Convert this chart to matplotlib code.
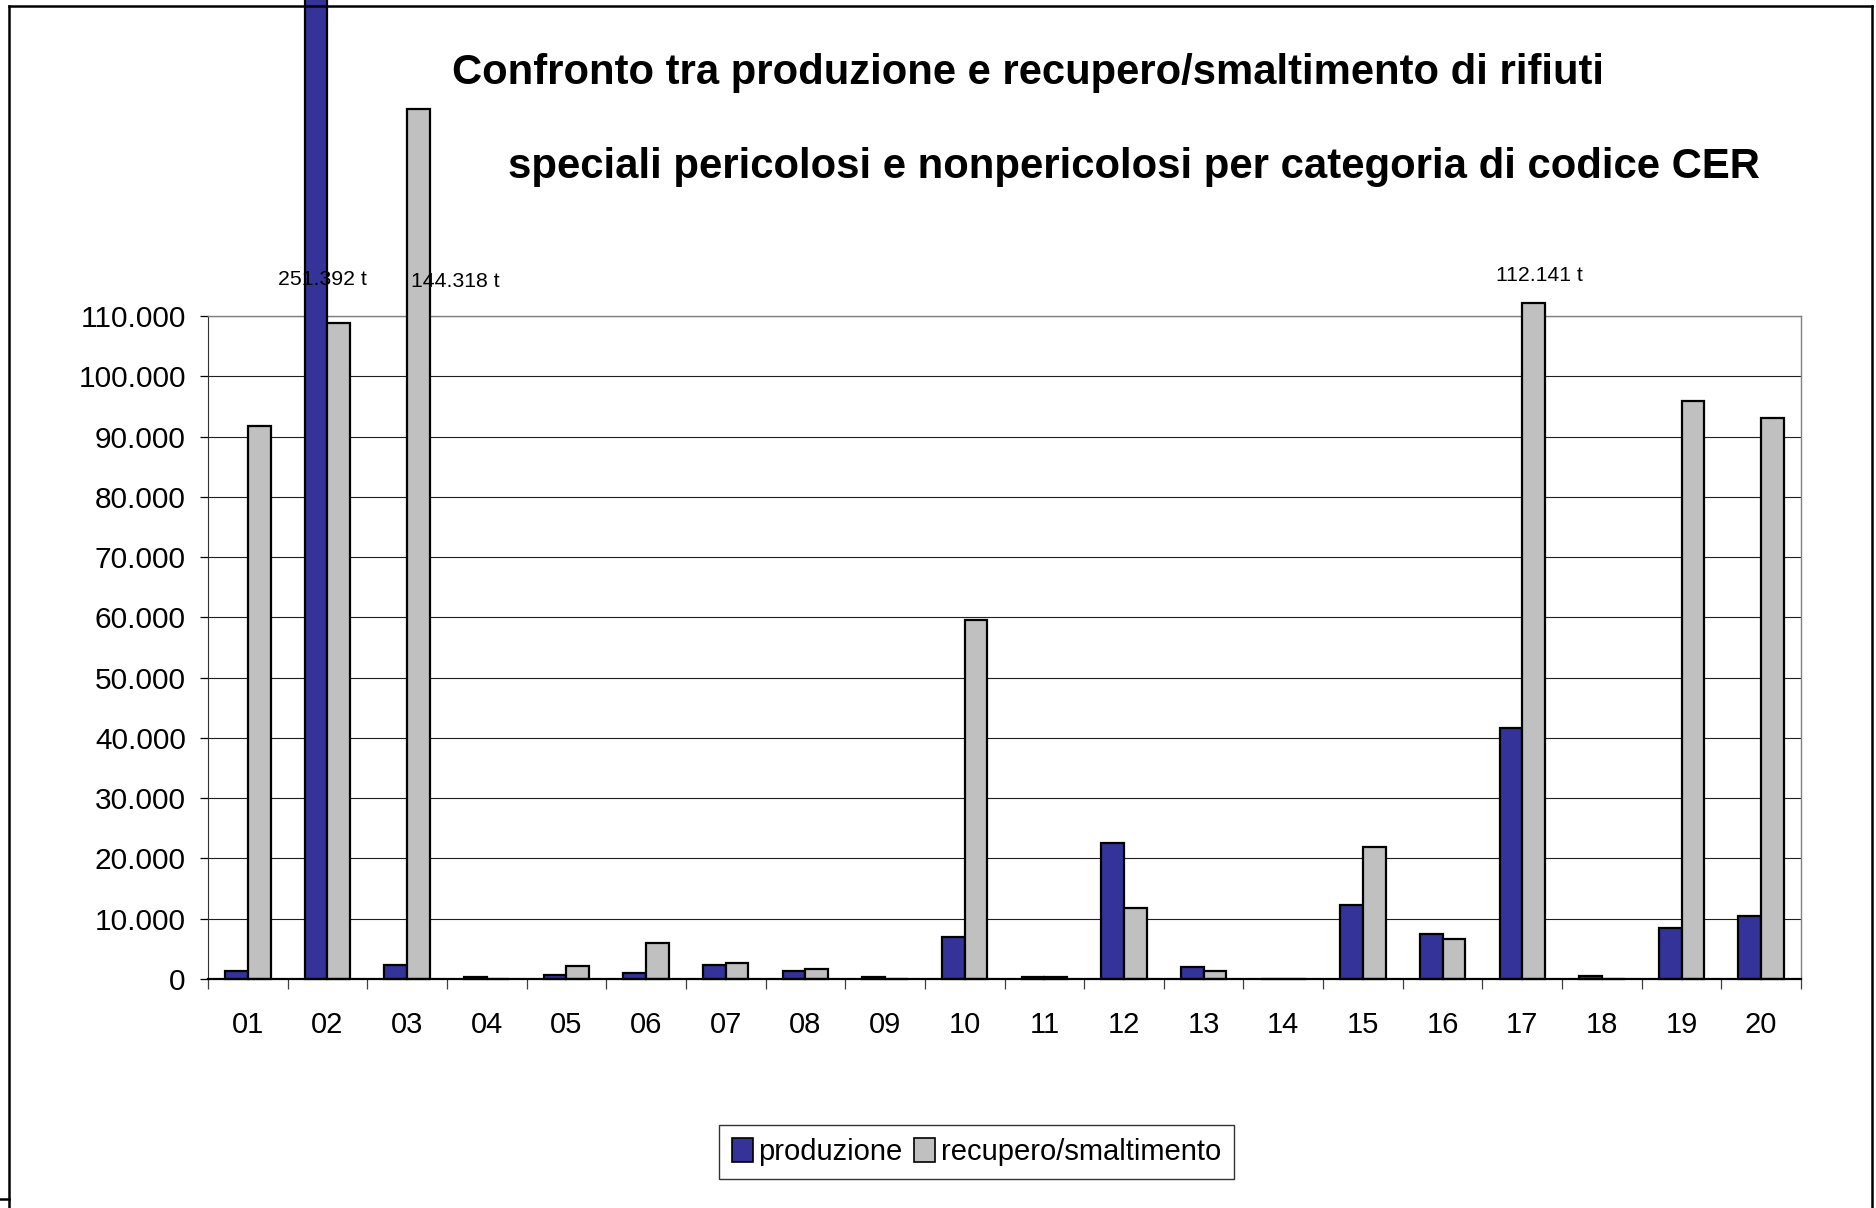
import matplotlib
matplotlib.use("Agg")
import matplotlib.pyplot as plt
from matplotlib.lines import Line2D
from matplotlib.ticker import FuncFormatter, FixedLocator
import numpy as np

plt.rcParams['font.family'] = ['Liberation Sans', 'DejaVu Sans']

categories = ["01", "02", "03", "04", "05", "06", "07", "08", "09", "10",
              "11", "12", "13", "14", "15", "16", "17", "18", "19", "20"]
produzione = [1350, 251392, 2300, 400, 700, 950, 2250, 1350, 400, 7000,
              400, 22500, 2000, 0, 12300, 7500, 41700, 450, 8400, 10400]
recupero = [91800, 108800, 144318, 0, 2200, 6000, 2700, 1700, 0, 59600,
            400, 11800, 1300, 0, 21900, 6600, 112141, 0, 95900, 93100]
series_names = ["produzione", "recupero/smaltimento"]
annotations = ["251.392 t", "144.318 t", "112.141 t"]
yticks = [0, 10000, 20000, 30000, 40000, 50000, 60000, 70000, 80000, 90000, 100000, 110000]
title1 = "Confronto tra produzione e recupero/smaltimento di rifiuti"
title2 = "speciali pericolosi e nonpericolosi per categoria di codice CER"

BLUE = "#333399"
GRAY = "#C0C0C0"

W, H = 1876, 1208
fig = plt.figure(figsize=(W / 100, H / 100), dpi=100)
ax = fig.add_axes([208 / W, 1 - 979 / H, (1801 - 208) / W, (979 - 316) / H])

x = np.arange(len(categories))
bw = 0.285
ax.bar(x - bw / 2, produzione, width=bw, color=BLUE, edgecolor="black",
       linewidth=1.6, clip_on=False, zorder=3, label=series_names[0])
ax.bar(x + bw / 2, recupero, width=bw, color=GRAY, edgecolor="black",
       linewidth=1.6, clip_on=False, zorder=3, label=series_names[1])

ax.set_xlim(-0.5, len(categories) - 0.5)
ax.set_ylim(0, 110000)

ax.yaxis.set_major_locator(FixedLocator(yticks))
ax.yaxis.set_major_formatter(FuncFormatter(lambda v, p: f"{int(v):,}".replace(",", ".")))
ax.set_xticks(x)
ax.set_xticklabels(categories)
ax.xaxis.set_minor_locator(FixedLocator(np.arange(-0.5, len(categories), 1.0)))
ax.tick_params(axis="x", which="major", length=0, pad=23, labelsize=21)
ax.tick_params(axis="x", which="minor", length=7, width=0.9, color="#404040", direction="out")
ax.tick_params(axis="y", length=6, width=0.9, pad=10, labelsize=21.5, direction="out")

ax.grid(axis="y", color="#202020", linewidth=0.8, zorder=1)
for s in ["top", "right"]:
    ax.spines[s].set_color("#808080")
    ax.spines[s].set_linewidth(1.0)
ax.spines["left"].set_color("#303030")
ax.spines["bottom"].set_color("black")
ax.spines["bottom"].set_linewidth(1.6)
ax.spines["bottom"].set_zorder(4)

ann_pos = [(0.94, 116000), (2.61, 115800), (16.22, 116800)]
for txt, (px, py) in zip(annotations, ann_pos):
    ax.text(px, py, txt, ha="center", va="center", fontsize=15.3, zorder=5)

t1 = fig.text(1028 / W, 1 - 73 / H, title1, ha="center", va="center",
              fontsize=27, fontweight="bold")
t2 = fig.text(1134 / W, 1 - 167 / H, title2, ha="center", va="center",
              fontsize=27, fontweight="bold")

# fit title widths to reference
fig.canvas.draw()
r = fig.canvas.get_renderer()
for t, target in [(t1, 1152), (t2, 1253)]:
    w = t.get_window_extent(r).width
    t.set_fontsize(t.get_fontsize() * target / w)

handles = [plt.Rectangle((0, 0), 1, 1, facecolor=BLUE, edgecolor="black", linewidth=1.2),
           plt.Rectangle((0, 0), 1, 1, facecolor=GRAY, edgecolor="black", linewidth=1.2)]
leg = fig.legend(handles, series_names, loc="center", bbox_to_anchor=(976.5 / W, 1 - 1152 / H),
                 ncol=2, fontsize=21, frameon=True, fancybox=False, edgecolor="black",
                 handlelength=0.7, handleheight=0.9, handletextpad=0.2, columnspacing=0.4,
                 borderpad=0.45, borderaxespad=0)
leg.get_frame().set_linewidth(1.0)

# outer chart frame
fl = 1.8
fig.add_artist(Line2D([9 / W, 9 / W], [0, 1 - 6 / H], color="black", lw=fl, transform=fig.transFigure))
fig.add_artist(Line2D([9 / W, 1872 / W], [1 - 6 / H, 1 - 6 / H], color="black", lw=fl, transform=fig.transFigure))
fig.add_artist(Line2D([1872 / W, 1872 / W], [0, 1 - 6 / H], color="black", lw=fl, transform=fig.transFigure))
fig.add_artist(Line2D([0, 9 / W], [1 - 1199 / H, 1 - 1199 / H], color="black", lw=fl, transform=fig.transFigure))

fig.savefig("out.png", dpi=100)
